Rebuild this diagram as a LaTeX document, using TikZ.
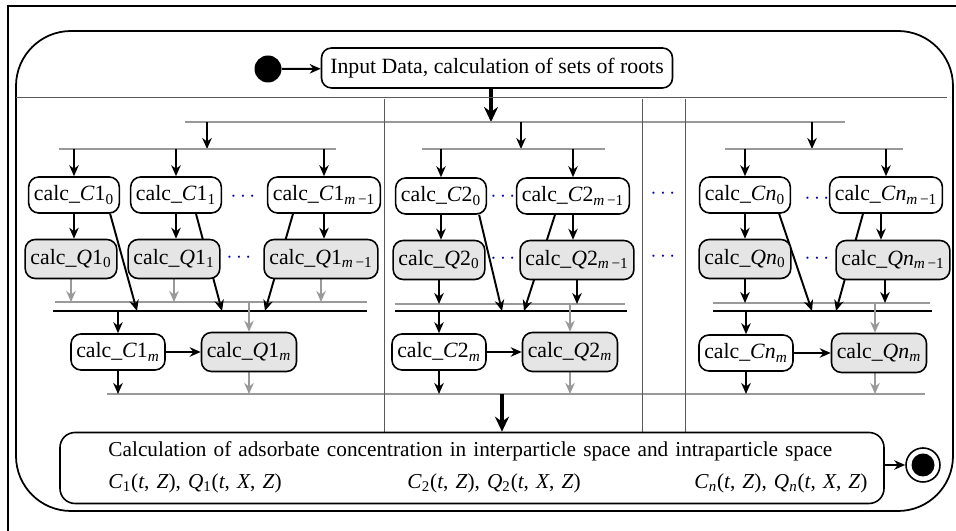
\documentclass[tikz,border=0pt]{standalone}
\usepackage{fontspec}
\setmainfont{Liberation Serif}
\usetikzlibrary{arrows.meta,backgrounds}

\newcommand{\clabel}[3]{calc\_\textit{#1}#2\textsubscript{#3}}
\newcommand{\cqpair}[1]{\textit{C}\textsubscript{#1}(\textit{t}, \textit{Z}), \textit{Q}\textsubscript{#1}(\textit{t}, \textit{X}, \textit{Z})}
\newcommand{\mmo}{\textit{m}\,−1}

\begin{document}
\begin{tikzpicture}[x=0.2mm, y=-0.2mm, font=\fontsize{12.4}{15}\selectfont,
    cbox/.style={draw, line width=0.9pt, rounded corners=2mm, fill=white, minimum height=7.2mm, inner xsep=3pt, inner ysep=2pt},
    qbox/.style={cbox, fill=black!10, minimum height=7.8mm},
    arr/.style={line width=1.1pt, -{Stealth[length=2.2mm,width=1.9mm]}},
    garr/.style={arr, black!40},
    bigarr/.style={line width=1.8pt, -{Stealth[length=3mm,width=2.8mm]}},
    gbar/.style={black!40, line width=1pt},
    kbar/.style={line width=1.2pt},
    divider/.style={black!65, line width=0.5pt},
    dotsl/.style={text=blue!70!black, inner sep=1pt},
    startdot/.style={circle, fill=black, inner sep=0pt}]
        \useasboundingbox (0,0) rectangle (956,531);

        \draw[line width=0.8pt] (8,531) -- (8,6) -- (956,6);
        \draw[line width=1pt, rounded corners=11mm] (16,31) rectangle (953,511);
        \draw[divider] (16,97) -- (947,97);
        \draw[divider] (384,99) -- (384,432);
        \draw[divider] (642,99) -- (642,432);
        \draw[divider] (685,99) -- (685,432);

        \node[startdot, minimum size=5.4mm] (start) at (268,69) {};
        \node[cbox, minimum height=8mm, inner xsep=5pt] (input) at (497,68) {Input Data, calculation of sets of roots};

        \node[cbox] (c10) at (74,195) {\clabel{C}{1}{0}};
        \node[cbox] (c11) at (176,195) {\clabel{C}{1}{1}};
        \node[dotsl] (d1c) at (243,197) {$\cdots$};
        \node[cbox] (c1k) at (324,195) {\clabel{C}{1}{\mmo}};
        \node[qbox] (q10) at (71,259) {\clabel{Q}{1}{0}};
        \node[qbox] (q11) at (174,259) {\clabel{Q}{1}{1}};
        \node[dotsl] (d1q) at (239,258) {$\cdots$};
        \node[qbox] (q1k) at (321,259) {\clabel{Q}{1}{\mmo}};
        \node[cbox] (c1m) at (118,352) {\clabel{C}{1}{\textit{m}}};
        \node[qbox] (q1m) at (249,352) {\clabel{Q}{1}{\textit{m}}};

        \node[cbox] (c20) at (441,196) {\clabel{C}{2}{0}};
        \node[dotsl] (d2c) at (503,197) {$\cdots$};
        \node[cbox] (c2k) at (573,196) {\clabel{C}{2}{\mmo}};
        \node[qbox] (q20) at (439,260) {\clabel{Q}{2}{0}};
        \node[dotsl] (d2q) at (503,259) {$\cdots$};
        \node[qbox] (q2k) at (577,260) {\clabel{Q}{2}{\mmo}};
        \node[cbox] (c2m) at (439,352) {\clabel{C}{2}{\textit{m}}};
        \node[qbox] (q2m) at (570,352) {\clabel{Q}{2}{\textit{m}}};

        \node[dotsl] (dxc) at (663,194) {$\cdots$};
        \node[dotsl] (dxq) at (663,257) {$\cdots$};

        \node[cbox] (cn0) at (745,195) {\clabel{C}{\textit{n}}{0}};
        \node[dotsl] (dnc) at (817,199) {$\cdots$};
        \node[cbox] (cnk) at (886,195) {\clabel{C}{\textit{n}}{\mmo}};
        \node[qbox] (qn0) at (745,259) {\clabel{Q}{\textit{n}}{0}};
        \node[dotsl] (dnq) at (817,259) {$\cdots$};
        \node[qbox] (qnk) at (893,260) {\clabel{Q}{\textit{n}}{\mmo}};
        \node[cbox] (cnm) at (746,353) {\clabel{C}{\textit{n}}{\textit{m}}};
        \node[qbox] (qnm) at (879,353) {\clabel{Q}{\textit{n}}{\textit{m}}};

        \node[cbox, rounded corners=3mm, minimum width=164.8mm, minimum height=14.2mm] (res) at (472,468) {};
        \node[align=left, text width=151.8mm, inner sep=0pt, font=\fontsize{12.1}{18}\selectfont] (restext) at (488,467)
            {Calculation of adsorbate concentration in interparticle space and intraparticle space\\
             \makebox[59.8mm][l]{\cqpair{1}}\cqpair{2}\hfill\cqpair{\textit{n}}};
        \node[circle, draw, line width=0.9pt, minimum size=6.8mm] (stop) at (923,465) {};
        \node[startdot, minimum size=4.6mm] (stopdot) at (stop) {};

        \coordinate (tl) at (185,122);   \coordinate (tr) at (845,122);
        \coordinate (f1) at (207,149);   \coordinate (f2) at (521,149);   \coordinate (fn) at (812,149);
        \coordinate (g1) at (59,149);    \coordinate (g2) at (422,149);   \coordinate (gn) at (725,149);
        \coordinate (h1) at (55,302);    \coordinate (h2) at (395,304);   \coordinate (hn) at (713,303);
        \coordinate (k1) at (53,311);    \coordinate (k2) at (395,311);   \coordinate (kn) at (713,311);
        \coordinate (j10) at (137,311);  \coordinate (j11) at (222,311);  \coordinate (j1k) at (265,311);
        \coordinate (j20) at (502,311);  \coordinate (j2k) at (524,311);
        \coordinate (jn0) at (812,311);  \coordinate (jnk) at (836,311);
        \coordinate (bl) at (107,394);   \coordinate (br) at (925,394);   \coordinate (bj) at (502,394);

        \begin{scope}[on background layer]
        \draw[arr] (start) -- (input);
        \draw[bigarr] ([xshift=-1.2mm]input.south) -- ([xshift=-1.2mm]input.south |- tl);
        \draw[gbar] (tl) -- (tr);
        \draw[arr] (f1 |- tl) -- (f1);
        \draw[arr] (f2 |- tl) -- (f2);
        \draw[arr] (fn |- tl) -- (fn);
        \draw[gbar] (g1) -- (336,149);
        \draw[gbar] (g2) -- (605,149);
        \draw[gbar] (gn) -- (903,149);

        \draw[arr] (c10.north |- g1) -- (c10);
        \draw[arr] (c11.north |- g1) -- (c11);
        \draw[arr] (c1k.north |- g1) -- (c1k);
        \draw[arr] (c20.north |- g2) -- (c20);
        \draw[arr] (c2k.north |- g2) -- (c2k);
        \draw[arr] (cn0.north |- gn) -- (cn0);
        \draw[arr] (cnk.north |- gn) -- (cnk);

        \draw[arr] (c10.south) -- (c10.south |- q10.north);
        \draw[arr] (c11.south) -- (c11.south |- q11.north);
        \draw[arr] (c1k.south) -- (c1k.south |- q1k.north);
        \draw[arr] (c20.south) -- (c20.south |- q20.north);
        \draw[arr] (c2k.south) -- (c2k.south |- q2k.north);
        \draw[arr] (cn0.south) -- (cn0.south |- qn0.north);
        \draw[arr] ([xshift=-1mm]cnk.south) -- ([xshift=-1mm]cnk.south |- qnk.north);

        \draw[kbar] (k1) -- (367,311);
        \draw[kbar] (k2) -- (627,311);
        \draw[kbar] (kn) -- (932,311);
        \draw[gbar] (h1) -- (367,302);
        \draw[gbar] (h2) -- (625,304);
        \draw[gbar] (hn) -- (930,303);

        \draw[garr] (q10.south) -- (q10.south |- h1);
        \draw[garr] (q11.south) -- (q11.south |- h1);
        \draw[garr] (q1k.south) -- (q1k.south |- h1);
        \draw[arr] (q20.south) -- (q20.south |- h2);
        \draw[arr] (q2k.south) -- (q2k.south |- h2);
        \draw[arr] (qn0.south) -- (qn0.south |- hn);
        \draw[arr] ([xshift=-1.6mm]qnk.south) -- ([xshift=-1.6mm]qnk.south |- hn);

        \draw[arr] ([xshift=-2mm]c10.south east) -- (j10);
        \draw[arr] ([xshift=4mm]c11.south) -- (j11);
        \draw[arr] ([xshift=-6.2mm]c1k.south) -- (j1k);
        \draw[arr] ([xshift=-1.6mm]c20.south east) -- (j20);
        \draw[arr] ([xshift=-3.6mm]c2k.south) -- (j2k);
        \draw[arr] ([xshift=-2.4mm]cn0.south east) -- (jn0);
        \draw[arr] ([xshift=-4.6mm]cnk.south) -- (jnk);

        \draw[arr] (c1m.north |- k1) -- (c1m);
        \draw[arr] (c2m.north |- k2) -- (c2m);
        \draw[arr] (cnm.north |- kn) -- (cnm);
        \draw[garr] (q1m.north |- h1) -- (q1m);
        \draw[garr] (q2m.north |- h2) -- (q2m);
        \draw[garr] ([xshift=-0.8mm]qnm.north |- hn) -- ([xshift=-0.8mm]qnm.north);

        \draw[arr] (c1m) -- (q1m);
        \draw[arr] (c2m) -- (q2m);
        \draw[arr] (cnm) -- (qnm);

        \draw[gbar] (bl) -- (br);
        \draw[arr] (c1m.south) -- (c1m.south |- bl);
        \draw[arr] (c2m.south) -- (c2m.south |- bl);
        \draw[arr] (cnm.south) -- (cnm.south |- bl);
        \draw[garr] (q1m.south) -- (q1m.south |- bl);
        \draw[garr] (q2m.south) -- (q2m.south |- bl);
        \draw[garr] ([xshift=-0.8mm]qnm.south) -- ([xshift=-0.8mm]qnm.south |- bl);
        \draw[bigarr] (bj) -- (bj |- res.north);

        \draw[arr] (res.east |- stop) -- (stop);
        \end{scope}

    \end{tikzpicture}
\end{document}
